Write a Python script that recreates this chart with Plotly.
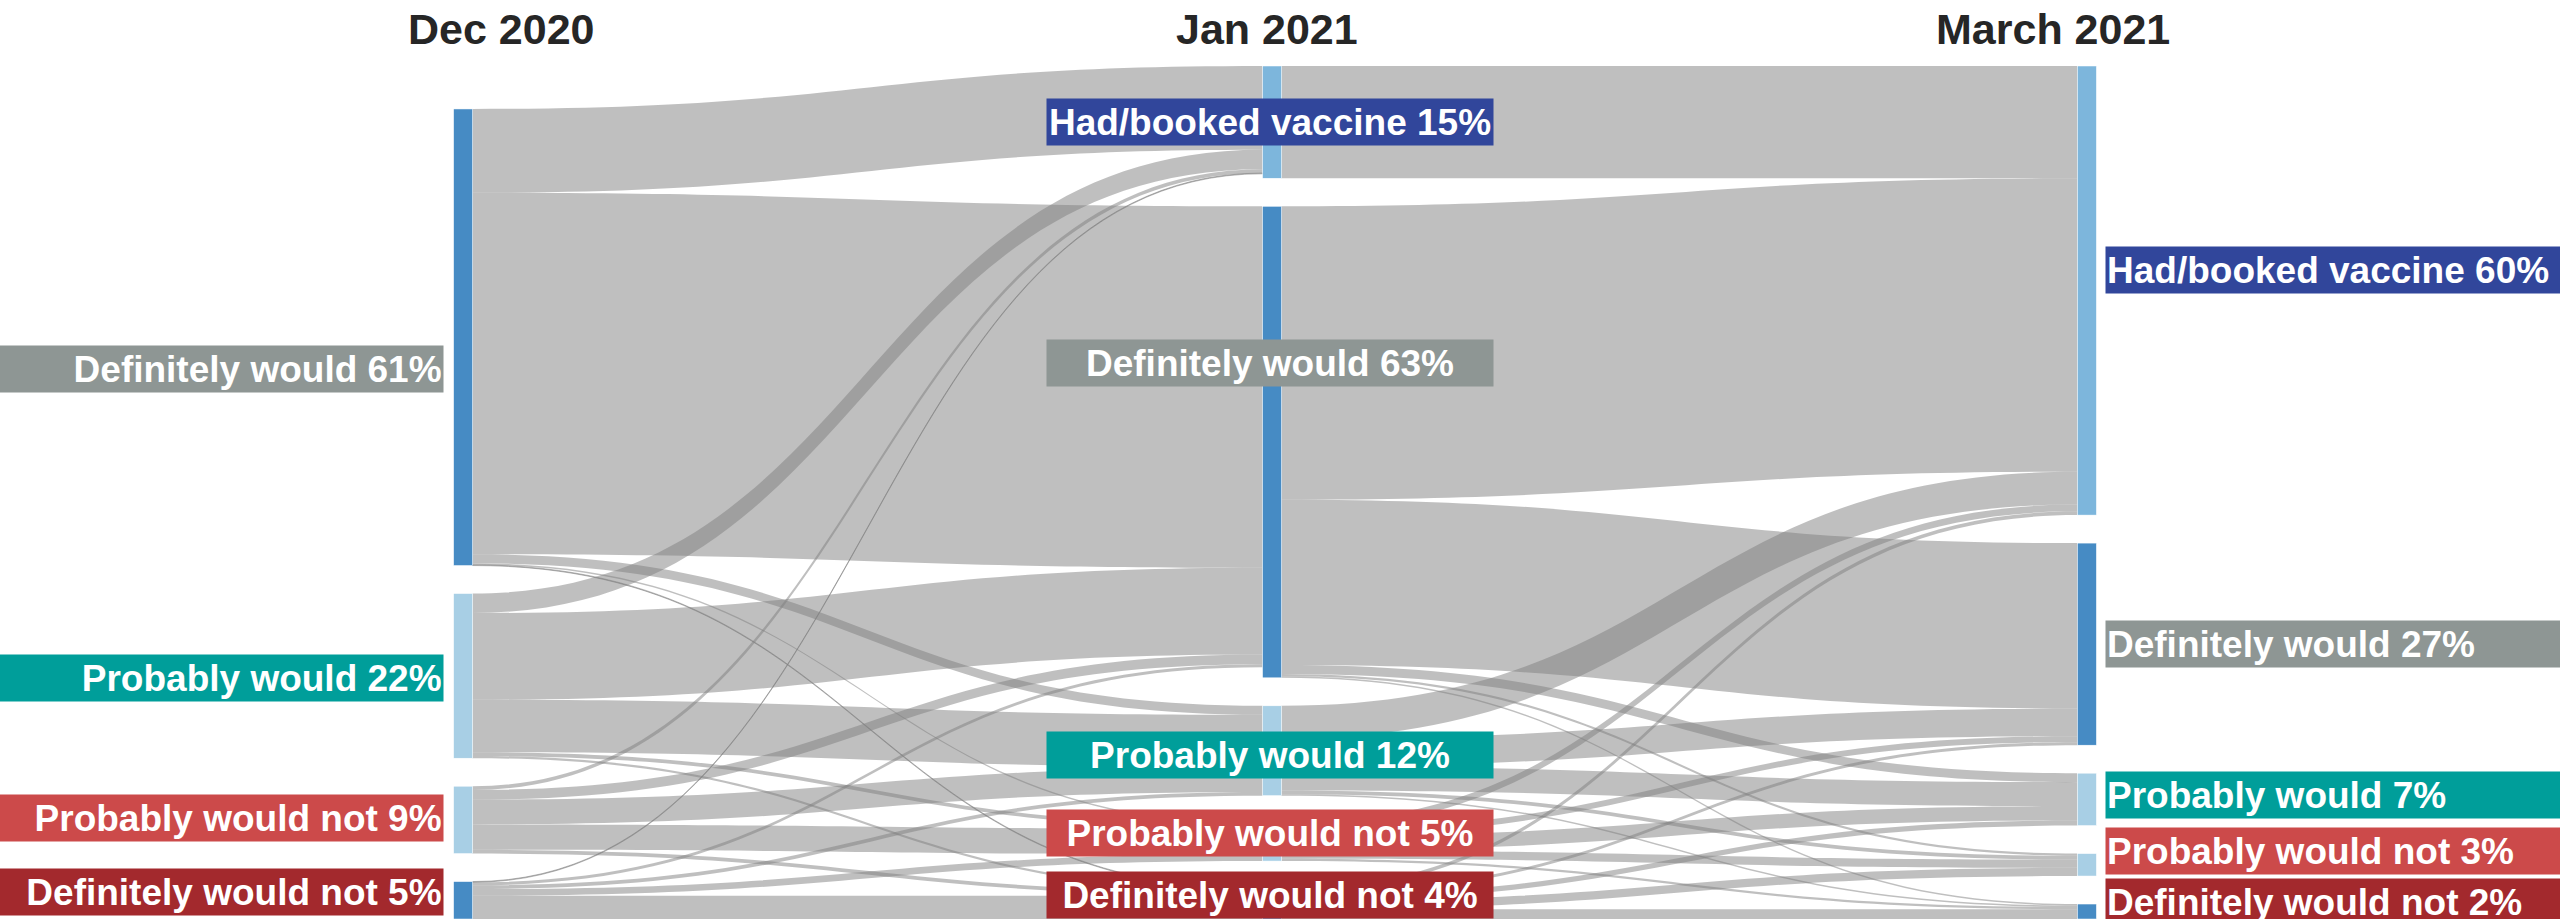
import plotly.graph_objects as go

W, H = 2560, 919

periods = ["Dec 2020", "Jan 2021", "March 2021"]
categories = ["Had/booked vaccine", "Definitely would", "Probably would",
              "Probably would not", "Definitely would not"]

# Share of respondents (%) per category in each wave.
# Dec 2020 has no "Had/booked vaccine" group.
dec_categories = categories[1:]
dec_share = [61, 22, 9, 5]
jan_share = [15, 63, 12, 5, 4]
mar_share = [60, 27, 7, 3, 2]

# Movement between waves (% of respondents).
# Rows: category in the earlier wave, columns: category in the later wave.
dec_to_jan = [
    [11.2, 48.3, 1.2, 0.2, 0.1],
    [2.6, 11.6, 7.0, 0.5, 0.3],
    [0.5, 1.3, 3.3, 3.4, 0.5],
    [0.1, 0.4, 0.5, 0.9, 3.1],
]
jan_to_mar = [
    [15.0, 0.0, 0.0, 0.0, 0.0],
    [39.2, 22.1, 1.2, 0.3, 0.2],
    [4.4, 3.7, 3.2, 0.5, 0.2],
    [0.9, 0.8, 1.9, 1.1, 0.3],
    [0.5, 0.4, 0.7, 1.1, 1.3],
]

# ---- styling ---------------------------------------------------------------
node_colour = {
    "Had/booked vaccine": "#7DB6DC",
    "Definitely would": "#468BC4",
    "Probably would": "#A8CFE5",
    "Probably would not": "#A8CFE5",
    "Definitely would not": "#468BC4",
}
label_colour = {
    "Had/booked vaccine": "#31469B",
    "Definitely would": "#8E9694",
    "Probably would": "#009E9A",
    "Probably would not": "#CC4A4A",
    "Definitely would not": "#A3292D",
}
FONT = "Arial, 'Liberation Sans', sans-serif"
LABEL_SIZE = 37
TITLE_SIZE = 43
BOX_H = 44

pad = 28
thickness = 19
top_margin = 66
plot_h = H - top_margin

column_x = [0.1809, 0.4969, 0.8152]     # node centres, fraction of width
title_x = [0.196, 0.495, 0.802]
# vertical nudges (px) of the label boxes relative to their node centres
label_shift = [[32, 2, -2, -8], [0, -79, 4, -9, -9], [-21, 0, -4, -14, -10]]


def paper_y(px):
    """Pixel offset from the top of the figure -> paper y coordinate."""
    return 1 - (px - top_margin) / plot_h


# ---- nodes -----------------------------------------------------------------
columns = [
    (dec_categories, dec_share),
    (categories, jan_share),
    (categories, mar_share),
]
ky = min((plot_h - (len(v) - 1) * pad) / sum(v) for _, v in columns)

node_label, node_col, node_x, node_y = [], [], [], []
centres = []          # (column, position, category, share, centre_px)
index = {}
for ci, (cats, vals) in enumerate(columns):
    # columns are stacked so that they end at the bottom of the plot
    stack = sum(vals) * ky + (len(vals) - 1) * pad
    cursor = plot_h - stack
    for k, (cat, v) in enumerate(zip(cats, vals)):
        h = v * ky
        centre = cursor + h / 2
        index[(ci, cat)] = len(node_label)
        node_label.append(f"{cat} {v}%")
        node_col.append(node_colour[cat])
        node_x.append(column_x[ci])
        node_y.append(centre / plot_h)
        centres.append((ci, k, cat, v, top_margin + centre))
        cursor += h + pad

# ---- links -----------------------------------------------------------------
src, tgt, val = [], [], []
for i, row in enumerate(dec_to_jan):
    for j, v in enumerate(row):
        if v > 0:
            src.append(index[(0, dec_categories[i])])
            tgt.append(index[(1, categories[j])])
            val.append(v)
for i, row in enumerate(jan_to_mar):
    for j, v in enumerate(row):
        if v > 0:
            src.append(index[(1, categories[i])])
            tgt.append(index[(2, categories[j])])
            val.append(v)

fig = go.Figure(go.Sankey(
    arrangement="fixed",
    domain=dict(x=[0, 1], y=[0, 1]),
    node=dict(
        label=[""] * len(node_label),
        customdata=node_label,
        hovertemplate="%{customdata}<extra></extra>",
        color=node_col,
        x=node_x,
        y=node_y,
        pad=pad,
        thickness=thickness,
        line=dict(color="white", width=0.5),
    ),
    link=dict(
        source=src,
        target=tgt,
        value=val,
        color="rgba(128,128,128,0.5)",
    ),
))

# ---- category labels -------------------------------------------------------
annotations = []
for ci, k, cat, v, cy in centres:
    cx = column_x[ci] * W
    common = dict(
        text=f"<b>{cat} {v}%</b>",
        xref="paper", yref="paper",
        y=paper_y(cy + label_shift[ci][k]), yanchor="middle",
        showarrow=False, bgcolor=label_colour[cat], borderpad=1,
        height=BOX_H, valign="middle",
        font=dict(family=FONT, size=LABEL_SIZE, color="white"),
    )
    if ci == 0:
        right = cx - thickness / 2 - 10
        annotations.append(dict(common, x=right / W, xanchor="right",
                                width=right - 2, align="right"))
    elif ci == 1:
        annotations.append(dict(common, x=(cx - 2) / W, xanchor="center",
                                width=444, align="center"))
    else:
        left = cx + thickness / 2 + 9
        annotations.append(dict(common, x=left / W, xanchor="left",
                                width=W - left - 2, align="left"))

for ci, name in enumerate(periods):
    annotations.append(dict(
        text=f"<b>{name}</b>", x=title_x[ci], y=paper_y(29),
        xref="paper", yref="paper", xanchor="center", yanchor="middle",
        showarrow=False, font=dict(family=FONT, size=TITLE_SIZE, color="#262626"),
    ))

fig.update_layout(
    width=W, height=H,
    margin=dict(l=0, r=0, t=top_margin, b=0),
    paper_bgcolor="white",
    annotations=annotations,
    font=dict(family=FONT),
)

fig.write_html("out.html", config={"displayModeBar": False})
